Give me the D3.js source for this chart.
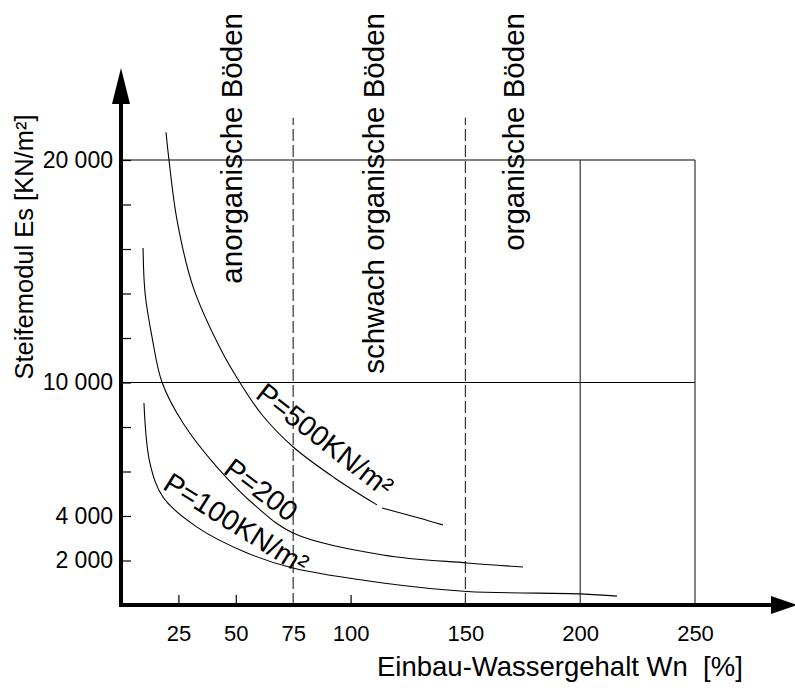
<!DOCTYPE html>
<html>
<head>
<meta charset="utf-8">
<script src="https://cdn.jsdelivr.net/npm/d3@7"></script>
<style>
  body { margin: 0; background: #fff; }
  svg { display: block; font-family: "Liberation Sans", Arial, Helvetica, sans-serif; }
</style>
</head>
<body>
<svg id="chart" width="795" height="691"></svg>
<script>
// Values (Wn in %, Es in kN/m²)
const xTicks = [25, 50, 75, 100, 150, 200, 250];
const yTicks = [2000, 4000, 6000, 8000, 10000, 12000, 14000, 16000, 18000, 20000];
const yLabelled = [2000, 4000, 10000, 20000];
const gridEs = [10000, 20000];
const solidWn = [200, 250];
const boundaryWn = [75, 150];
const boundaryTop = 21900;

const zoneNames = ["anorganische Böden", "schwach organische Böden", "organische Böden"];
const zoneWn = [52.7, 114.5, 175.5];

// P = 500 kN/m² (small break in the line near the label end)
const p500Wn = [19.6, 20.9, 24.4, 31.4, 44.4, 51.8, 61.4, 75.0, 93.2, 111.5, null, 113.7, 130.2, 140.2];
const p500Es = [21250, 20000, 17300, 14300, 11300, 10000, 8550, 7100, 5700, 4500, null, 4360, 3900, 3600];
// P = 200 kN/m²
const p200Wn = [9.6, 10.5, 13.5, 17.9, 27.0, 41.8, 59.2, 74.9, 114.1, 150.7, 175.1];
const p200Es = [16050, 14000, 12050, 10000, 8180, 6200, 4400, 3240, 2250, 1890, 1710];
// P = 100 kN/m²
const p100Wn = [10.0, 12.6, 18.3, 33.1, 54.9, 74.9, 114.1, 150.7, 200.3, 216.0];
const p100Es = [9080, 6380, 4850, 3500, 2340, 1660, 990, 610, 500, 400];

const curveLabels = ["P=500KN/m²", "P=200", "P=100KN/m²"];
const labelWn = [58.0, 44.0, 17.6];
const labelEs = [9350, 5950, 5250];
const labelAngle = [38, 37, 32];

const svg = d3.select("#chart");

const x = d3.scaleLinear().domain([0, 250]).range([121, 695]);
const y = d3.scaleLinear().domain([0, 20000]).range([605, 160]);

const fmt = d3.formatLocale({decimal: ",", thousands: " ", grouping: [3], currency: ["", ""]}).format(",");

// grid lines
svg.selectAll(".hgrid").data(gridEs).enter().append("line")
    .attr("x1", x(0)).attr("x2", x(250))
    .attr("y1", d => y(d)).attr("y2", d => y(d))
    .attr("stroke", "#000").attr("stroke-width", 1.2);

svg.selectAll(".vgrid").data(solidWn).enter().append("line")
    .attr("x1", d => x(d)).attr("x2", d => x(d))
    .attr("y1", y(0)).attr("y2", y(20000))
    .attr("stroke", "#333").attr("stroke-width", 1.2);

svg.selectAll(".bound").data(boundaryWn).enter().append("line")
    .attr("x1", d => x(d)).attr("x2", d => x(d))
    .attr("y1", y(0)).attr("y2", y(boundaryTop))
    .attr("stroke", "#333").attr("stroke-width", 1.2)
    .attr("stroke-dasharray", "12,4");

// zone labels, rotated
svg.selectAll(".zone").data(zoneNames).enter().append("text")
    .attr("transform", (d, i) => `translate(${x(zoneWn[i])},13) rotate(-90)`)
    .attr("text-anchor", "end")
    .style("font-size", "29.5px")
    .text(d => d);

// curves
const line = d3.line()
    .defined(d => d[1] != null)
    .x(d => x(d[0]))
    .y(d => y(d[1]))
    .curve(d3.curveCatmullRom.alpha(0.5));

const series = [
    d3.zip(p500Wn, p500Es),
    d3.zip(p200Wn, p200Es),
    d3.zip(p100Wn, p100Es)
];

svg.selectAll(".curve").data(series).enter().append("path")
    .attr("d", line)
    .attr("fill", "none")
    .attr("stroke", "#000")
    .attr("stroke-width", 1.1);

svg.selectAll(".plabel").data(curveLabels).enter().append("text")
    .attr("transform", (d, i) => `translate(${x(labelWn[i])},${y(labelEs[i])}) rotate(${labelAngle[i]})`)
    .style("font-size", "28.5px")
    .text(d => d);

// axes
const yAxis = d3.axisLeft(y)
    .tickValues(yTicks)
    .tickSize(-10)
    .tickPadding(8)
    .tickFormat(d => yLabelled.includes(d) ? fmt(d) : "");

const yg = svg.append("g").attr("transform", `translate(${x(0)},0)`).call(yAxis);
yg.select(".domain").remove();
yg.selectAll("text").style("font-size", "23px").attr("font-family", null);
yg.selectAll("line").attr("stroke-width", 1.2);

const xAxis = d3.axisBottom(x)
    .tickValues(xTicks)
    .tickSize(-10)
    .tickPadding(20);

const xg = svg.append("g").attr("transform", `translate(0,${y(0)})`).call(xAxis);
xg.select(".domain").remove();
xg.selectAll("text").style("font-size", "22px").attr("font-family", null);
xg.selectAll(".tick").filter(d => boundaryWn.includes(d) || solidWn.includes(d)).select("line").remove();
xg.selectAll("line").attr("stroke-width", 1.2);

// thick axis lines with arrow heads
svg.append("line")
    .attr("x1", x(0)).attr("x2", 775)
    .attr("y1", y(0)).attr("y2", y(0))
    .attr("stroke", "#000").attr("stroke-width", 4);
svg.append("line")
    .attr("x1", x(0)).attr("x2", x(0))
    .attr("y1", y(0) + 2).attr("y2", 100)
    .attr("stroke", "#000").attr("stroke-width", 4);

svg.append("path")
    .attr("d", `M${x(0)},68 L${x(0) - 9},104 L${x(0) + 9},104 Z`)
    .attr("fill", "#000");
svg.append("path")
    .attr("d", `M797,${y(0)} L771,${y(0) - 9} L771,${y(0) + 9} Z`)
    .attr("fill", "#000");

// axis titles
svg.append("text")
    .attr("transform", `translate(33,247) rotate(-90)`)
    .attr("text-anchor", "middle")
    .style("font-size", "25.5px")
    .text("Steifemodul Es [KN/m²]");

svg.append("text")
    .attr("x", 377).attr("y", 676)
    .style("font-size", "27.5px")
    .style("white-space", "pre")
    .text("Einbau-Wassergehalt Wn  [%]");
</script>
</body>
</html>
